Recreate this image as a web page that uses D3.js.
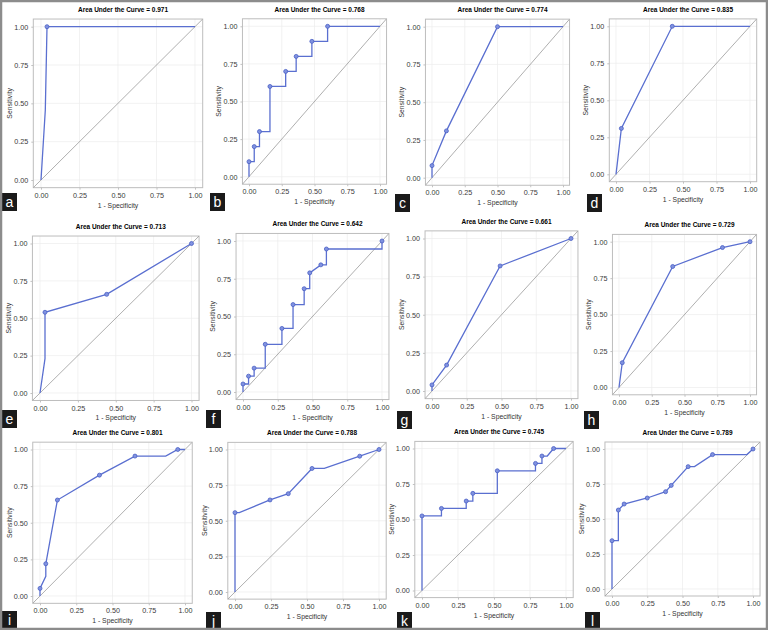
<!DOCTYPE html>
<html>
<head>
<meta charset="utf-8">
<script src="https://cdn.jsdelivr.net/npm/d3@7"></script>
<style>
  body { margin: 0; background: #fff; }
  svg { display: block; font-family: "Liberation Sans", Arial, sans-serif; }
</style>
</head>
<body>
<svg id="fig" width="768" height="630"></svg>
<script>
  var letters = ["a", "b", "c", "d", "e", "f", "g", "h", "i", "j", "k", "l"];
  var aucs = [0.971, 0.768, 0.774, 0.835, 0.713, 0.642, 0.661, 0.729, 0.801, 0.788, 0.745, 0.789];
  var ticks = [0, 0.25, 0.5, 0.75, 1];

  // ROC vertices (1 - specificity, sensitivity); mark = vertices drawn with a point
  var fprA = [0, 0.028, 0.039, 1];
  var tprA = [0, 0.456, 1, 1];
  var markA = [2];

  var fprB = [0, 0, 0.04, 0.04, 0.08, 0.08, 0.16, 0.16, 0.28, 0.28, 0.36, 0.36, 0.48, 0.48, 0.6, 0.6, 1];
  var tprB = [0, 0.1, 0.1, 0.2, 0.2, 0.3, 0.3, 0.6, 0.6, 0.7, 0.7, 0.8, 0.8, 0.9, 0.9, 1, 1];
  var markB = [1, 3, 5, 7, 9, 11, 13, 15];

  var fprC = [0, 0, 0.11, 0.5, 1];
  var tprC = [0, 0.08, 0.31, 1, 1];
  var markC = [1, 2, 3];

  var fprD = [0, 0.04, 0.42, 1];
  var tprD = [0, 0.31, 1, 1];
  var markD = [1, 2];

  var fprE = [0, 0.033, 0.033, 0.44, 1];
  var tprE = [0, 0.23, 0.54, 0.66, 1];
  var markE = [2, 3, 4];

  var fprF = [0, 0, 0.04, 0.04, 0.08, 0.08, 0.16, 0.16, 0.28, 0.28, 0.36, 0.36, 0.44, 0.44, 0.48, 0.48, 0.56, 0.6, 0.6, 1, 1];
  var tprF = [0, 0.053, 0.053, 0.105, 0.105, 0.158, 0.158, 0.316, 0.316, 0.421, 0.421, 0.579, 0.579, 0.684, 0.684, 0.789, 0.842, 0.842, 0.947, 0.947, 1];
  var markF = [1, 3, 5, 7, 9, 11, 13, 15, 16, 18, 20];

  var fprG = [0, 0, 0.105, 0.49, 1];
  var tprG = [0, 0.04, 0.17, 0.82, 1];
  var markG = [1, 2, 3, 4];

  var fprH = [0, 0.025, 0.41, 0.79, 1];
  var tprH = [0, 0.17, 0.83, 0.96, 1];
  var markH = [1, 2, 3, 4];

  var fprI = [0, 0, 0.04, 0.04, 0.12, 0.41, 0.655, 0.867, 0.95, 1];
  var tprI = [0, 0.052, 0.134, 0.22, 0.655, 0.825, 0.955, 0.955, 1, 1];
  var markI = [1, 3, 4, 5, 6, 8];

  var fprJ = [0, 0, 0.03, 0.243, 0.37, 0.535, 0.62, 0.866, 1];
  var tprJ = [0, 0.557, 0.557, 0.646, 0.69, 0.867, 0.867, 0.953, 1];
  var markJ = [1, 3, 4, 5, 7, 8];

  var fprK = [0, 0, 0.135, 0.135, 0.307, 0.307, 0.353, 0.353, 0.523, 0.523, 0.788, 0.788, 0.833, 0.833, 0.87, 0.914, 1];
  var tprK = [0, 0.525, 0.525, 0.578, 0.578, 0.63, 0.63, 0.684, 0.684, 0.843, 0.843, 0.895, 0.895, 0.947, 0.947, 1, 1];
  var markK = [1, 3, 5, 7, 9, 11, 13, 15];

  var fprL = [0, 0, 0.045, 0.045, 0.086, 0.25, 0.38, 0.42, 0.54, 0.585, 0.713, 0.957, 1];
  var tprL = [0, 0.345, 0.345, 0.564, 0.607, 0.65, 0.695, 0.74, 0.874, 0.874, 0.96, 0.96, 1];
  var markL = [1, 3, 4, 5, 6, 7, 8, 10, 12];

  var fprs = [fprA, fprB, fprC, fprD, fprE, fprF, fprG, fprH, fprI, fprJ, fprK, fprL];
  var tprs = [tprA, tprB, tprC, tprD, tprE, tprF, tprG, tprH, tprI, tprJ, tprK, tprL];
  var marks = [markA, markB, markC, markD, markE, markF, markG, markH, markI, markJ, markK, markL];

  // pixel position of value 0 and 1 on each axis: [x0, x1, y0, y1]
  var frames = [
    [41, 195, 180, 26.7], [249, 380, 176.7, 26.3], [432, 563, 177.7, 26.7], [616, 750, 174.3, 26.3],
    [40, 191.5, 393, 243.5], [243, 382, 392, 241], [432, 571, 391, 238.5], [619, 750, 387.5, 241.7],
    [40, 185, 596, 449.5], [235, 379, 592, 449.5], [422, 566, 590.5, 448.5], [612, 753, 589, 449]
  ];
  // letter badge top-left corners
  var badges = [
    [2, 193], [210, 193], [395, 194], [587, 194],
    [2, 410], [206, 410], [397, 411], [584, 411],
    [2, 611], [206, 612], [397, 612], [585, 612]
  ];

  var svg = d3.select("#fig");
  var blue = "#5a6fd0";
  var fmt = d3.format(".2f");

  letters.forEach(function(letter, i) {
    var f = frames[i];
    var x = d3.scaleLinear().domain([0, 1]).range([f[0], f[1]]);
    var y = d3.scaleLinear().domain([0, 1]).range([f[2], f[3]]);
    var left = x(-0.05), right = x(1.05), top = y(1.05), bottom = y(-0.05);
    var g = svg.append("g");

    g.append("clipPath").attr("id", "clip" + i)
      .append("rect").attr("x", left).attr("y", top)
      .attr("width", right - left).attr("height", bottom - top);

    // grid
    g.selectAll(".gx").data(ticks).enter().append("line")
      .attr("x1", function(d) { return x(d); }).attr("x2", function(d) { return x(d); })
      .attr("y1", top).attr("y2", bottom)
      .attr("stroke", "#ececec").attr("stroke-width", 0.7);
    g.selectAll(".gy").data(ticks).enter().append("line")
      .attr("y1", function(d) { return y(d); }).attr("y2", function(d) { return y(d); })
      .attr("x1", left).attr("x2", right)
      .attr("stroke", "#ececec").attr("stroke-width", 0.7);

    // axes
    var ax = g.append("g").attr("transform", "translate(0," + bottom + ")")
      .call(d3.axisBottom(x).tickValues(ticks).tickFormat(fmt).tickSize(2).tickPadding(3));
    var ay = g.append("g").attr("transform", "translate(" + left + ",0)")
      .call(d3.axisLeft(y).tickValues(ticks).tickFormat(fmt).tickSize(2).tickPadding(3));
    [ax, ay].forEach(function(a) {
      a.select(".domain").remove();
      a.selectAll("line").attr("stroke", "#999").attr("stroke-width", 0.6);
      a.selectAll("text").attr("font-size", 7.2).attr("fill", "#3a3a3a")
        .attr("font-family", "Liberation Sans, Arial, sans-serif");
    });

    // box
    g.append("rect").attr("x", left).attr("y", top)
      .attr("width", right - left).attr("height", bottom - top)
      .attr("fill", "none").attr("stroke", "#bdbdbd").attr("stroke-width", 1);

    var inner = g.append("g").attr("clip-path", "url(#clip" + i + ")");
    // chance line
    inner.append("line")
      .attr("x1", x(-0.05)).attr("y1", y(-0.05)).attr("x2", x(1.05)).attr("y2", y(1.05))
      .attr("stroke", "#9a9a9a").attr("stroke-width", 0.8);

    var pts = fprs[i].map(function(v, k) { return [v, tprs[i][k]]; });
    inner.append("path").datum(pts)
      .attr("d", d3.line().x(function(d) { return x(d[0]); }).y(function(d) { return y(d[1]); }))
      .attr("fill", "none").attr("stroke", blue).attr("stroke-width", 1.3);

    g.selectAll(".pt").data(marks[i].map(function(k) { return pts[k]; })).enter().append("circle")
      .attr("cx", function(d) { return x(d[0]); }).attr("cy", function(d) { return y(d[1]); })
      .attr("r", 2).attr("fill", "#8092e0").attr("stroke", "#4a5fc4").attr("stroke-width", 0.8);

    // titles
    g.append("text").attr("x", (left + right) / 2 + 5).attr("y", top - 7)
      .attr("text-anchor", "middle").attr("font-size", 7).attr("font-weight", "bold")
      .attr("textLength", 90).attr("lengthAdjust", "spacingAndGlyphs")
      .text("Area Under the Curve = " + aucs[i].toFixed(3));
    g.append("text").attr("x", (left + right) / 2).attr("y", bottom + 20)
      .attr("text-anchor", "middle").attr("font-size", 6.8).attr("fill", "#333")
      .text("1 - Specificity");
    g.append("text")
      .attr("transform", "translate(" + (left - 21) + "," + (top + bottom) / 2 + ") rotate(-90)")
      .attr("text-anchor", "middle").attr("font-size", 6.8).attr("fill", "#333")
      .text("Sensitivity");

    // panel letter
    var b = badges[i];
    g.append("rect").attr("x", b[0]).attr("y", b[1]).attr("width", 15).attr("height", 18)
      .attr("fill", "#1a1a1a");
    g.append("text").attr("x", b[0] + 7.5).attr("y", b[1] + 14)
      .attr("text-anchor", "middle").attr("font-size", 14).attr("fill", "#fff")
      .text(letter);
  });

  // outer frame
  svg.append("rect").attr("x", 1).attr("y", 1).attr("width", 766).attr("height", 628)
    .attr("fill", "none").attr("stroke", "#8c8c8c").attr("stroke-width", 2.5);
</script>
</body>
</html>
